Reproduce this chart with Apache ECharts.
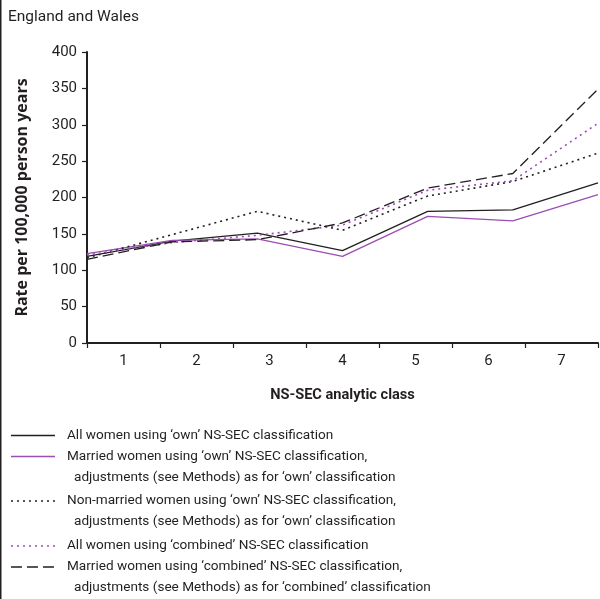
<!DOCTYPE html>
<html>
<head>
<meta charset="utf-8">
<script src="https://cdn.jsdelivr.net/npm/echarts@6/dist/echarts.min.js"></script>
<style>
  html, body { margin: 0; padding: 0; background: #fff; }
  #chart { width: 600px; height: 599px; }
</style>
</head>
<body>
<div id="chart"></div>
<script>
// NS-SEC analytic classes (tick labels between ticks) and the 7 plotted points
const classes = ["1", "2", "3", "4", "5", "6", "7"];
const pointIds = ["p1", "p2", "p3", "p4", "p5", "p6", "p7"];
const yTicks = [0, 400, 50]; // min, max, interval

// rate per 100,000 person years
const allOwn = [119, 140, 151, 127, 181, 183, 220];
const marriedOwn = [123, 141, 143, 119, 174, 168, 204];
const nonMarriedOwn = [117, 149, 181, 155, 202, 222, 261];
const allCombined = [121, 138, 148, 162, 210, 223, 302];
const marriedCombined = [115, 139, 142, 165, 213, 233, 349];

const legendLines = [
  ["All women using \u2018own\u2019 NS-SEC classification"],
  ["Married women using \u2018own\u2019 NS-SEC classification,",
   "adjustments (see Methods) as for \u2018own\u2019 classification"],
  ["Non-married women using \u2018own\u2019 NS-SEC classification,",
   "adjustments (see Methods) as for \u2018own\u2019 classification"],
  ["All women using \u2018combined\u2019 NS-SEC classification"],
  ["Married women using \u2018combined\u2019 NS-SEC classification,",
   "adjustments (see Methods) as for \u2018combined\u2019 classification"]
];

const FONT = "Roboto";
const TXT = "#231f20";
const PURPLE = "#9c4db3";

const seriesDefs = [
  { data: allOwn, color: "#231f20", type: "solid", width: 1.3 },
  { data: marriedOwn, color: PURPLE, type: "solid", width: 1.3 },
  { data: nonMarriedOwn, color: "#231f20", type: [2, 4], width: 1.6 },
  { data: allCombined, color: PURPLE, type: [2, 4], width: 1.6 },
  { data: marriedCombined, color: "#231f20", type: [11, 5], width: 1.3 }
];

const myChart = echarts.init(document.getElementById("chart"), null, { renderer: "canvas" });

// legend drawn as graphic (icon sits on the first text line)
const legendY = [435.5, 456.5, 501, 546, 567];
const graphics = [
  { type: "rect", shape: { x: 0, y: 0, width: 1.5, height: 599 }, style: { fill: "#231f20" } },
  { type: "text", x: 8, y: 17, style: { text: "England and Wales", font: "15.5px " + FONT, fill: TXT, verticalAlign: "middle" } }
];
seriesDefs.forEach((s, i) => {
  const y = legendY[i];
  graphics.push({
    type: "line",
    shape: { x1: 11, y1: y, x2: 55, y2: y },
    style: { stroke: s.color, lineWidth: s.width, lineDash: s.type === "solid" ? null : s.type }
  });
  legendLines[i].forEach((t, j) => {
    graphics.push({
      type: "text",
      x: j === 0 ? 67 : 74,
      y: y + j * 21,
      style: { text: t, font: "13.6px " + FONT, fill: TXT, verticalAlign: "middle" }
    });
  });
});

const option = {
  animation: false,
  grid: { left: 87, right: 2, top: 52, bottom: 256, containLabel: false },
  xAxis: [
    {
      type: "category",
      data: classes,
      boundaryGap: true,
      name: "NS-SEC analytic class",
      nameLocation: "middle",
      nameGap: 45,
      nameTextStyle: { fontFamily: FONT, fontSize: 14.6, fontWeight: "bold", color: TXT },
      axisLine: { lineStyle: { color: TXT, width: 2 } },
      axisTick: { show: true, length: 5, lineStyle: { color: TXT, width: 1.2 } },
      axisLabel: { fontFamily: FONT, fontSize: 15, color: TXT, margin: 11 },
      splitLine: { show: false }
    },
    {
      type: "category",
      data: pointIds,
      boundaryGap: false,
      show: false
    }
  ],
  yAxis: {
    type: "value",
    min: yTicks[0],
    max: yTicks[1],
    interval: yTicks[2],
    name: "Rate per 100,000 person years",
    nameLocation: "middle",
    nameGap: 57,
    nameTextStyle: { fontFamily: "Open Sans", fontSize: 16, fontWeight: "bold", color: TXT },
    axisLine: { show: true, lineStyle: { color: TXT, width: 2 } },
    axisTick: { show: true, length: 5, lineStyle: { color: TXT, width: 1.2 } },
    axisLabel: { fontFamily: FONT, fontSize: 15, color: TXT, margin: 10 },
    splitLine: { show: false }
  },
  series: seriesDefs.map((s, i) => ({
    type: "line",
    name: legendLines[i].join(" "),
    xAxisIndex: 1,
    data: s.data,
    symbol: "none",
    lineStyle: { color: s.color, width: s.width, type: s.type },
    z: 2 + i
  })),
  graphic: graphics
};

myChart.setOption(option);
</script>
</body>
</html>
